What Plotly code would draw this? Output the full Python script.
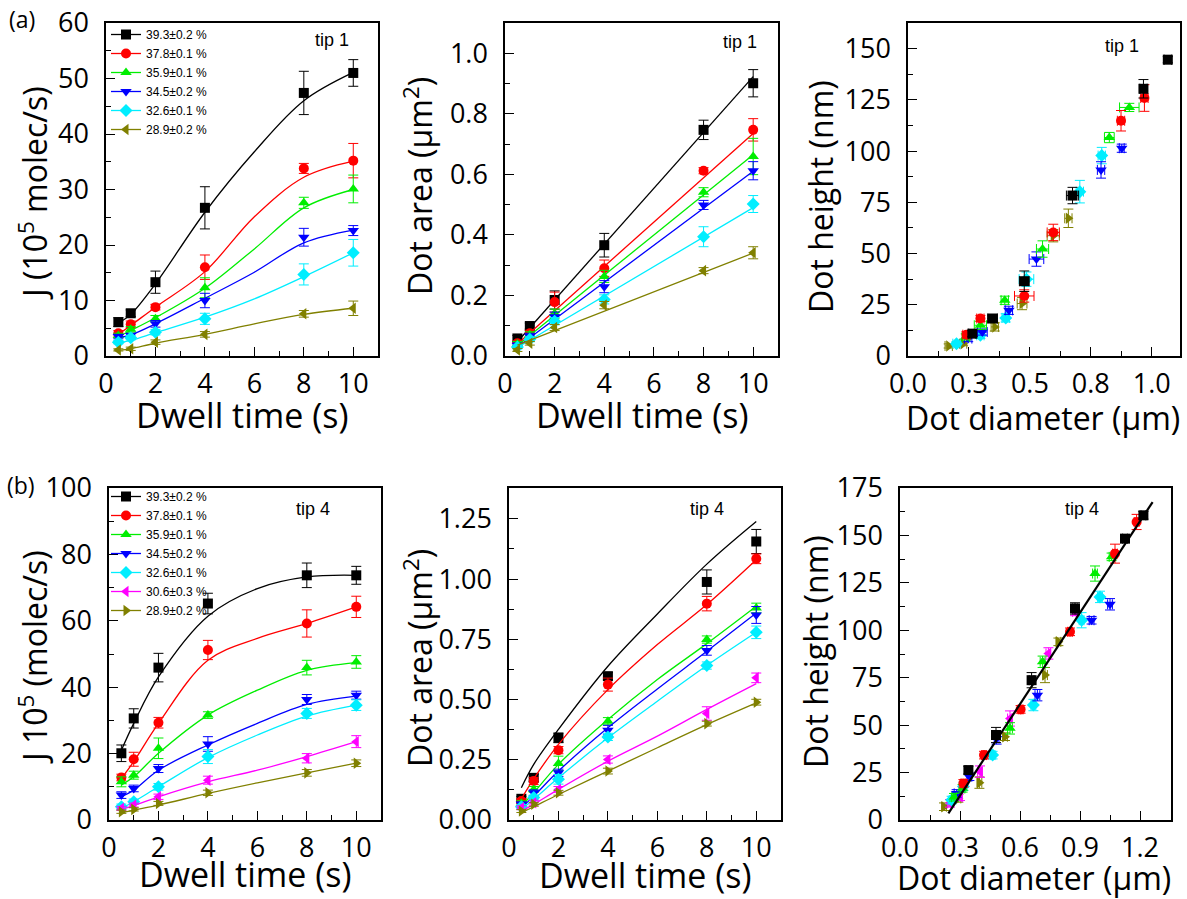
import plotly.graph_objects as go

W, H = 1187, 899

# ---------------- data ----------------
T = [0.5, 1, 2, 4, 8, 10]
FIT_T = [0.5, 1, 2, 4, 6, 8, 10]
LIN_T = [0.5, 10]

LABELS_TIP1 = ["39.3±0.2 %", "37.8±0.1 %", "35.9±0.1 %", "34.5±0.2 %", "32.6±0.1 %", "28.9±0.2 %"]
LABELS_TIP4 = ["39.3±0.2 %", "37.8±0.1 %", "35.9±0.1 %", "34.5±0.2 %", "32.6±0.1 %", "30.6±0.3 %", "28.9±0.2 %"]

# (a) tip 1 : flux J (10^5 molec/s) vs dwell time
J_TIP1 = [
    [6.1, 7.7, 13.3, 26.7, 47.4, 51.0],
    [4.1, 5.7, 8.8, 16.0, 33.8, 35.2],
    [3.7, 4.8, 6.7, 12.3, 27.6, 30.1],
    [3.5, 3.7, 5.8, 10.0, 21.4, 22.6],
    [2.5, 3.3, 4.3, 6.7, 14.7, 18.6],
    [1.1, 1.3, 2.5, 3.9, 7.6, 8.6],
]
J_TIP1_ERR = [
    [0.8, 0.6, 2.0, 3.8, 3.9, 2.4],
    [0.5, 0.6, 0.5, 2.2, 0.9, 3.1],
    [0.4, 0.5, 0.6, 1.8, 1.0, 2.5],
    [0.4, 0.4, 0.6, 1.3, 1.6, 0.9],
    [0.3, 0.4, 0.5, 1.0, 1.9, 2.4],
    [0.2, 0.3, 0.4, 0.5, 0.6, 1.3],
]
J_TIP1_FIT = [
    [5.9, 7.5, 13.0, 25.9, 36.8, 46.0, 51.1],
    [3.9, 5.5, 8.8, 15.2, 25.1, 32.2, 35.1],
    [3.5, 4.6, 6.9, 12.2, 19.3, 26.7, 30.0],
    [3.3, 3.8, 5.8, 10.4, 15.1, 20.4, 22.7],
    [2.3, 2.8, 4.2, 7.0, 10.3, 14.3, 18.6],
    [1.0, 1.3, 2.3, 3.9, 5.8, 7.5, 8.6],
]

# (a) tip 1 : dot area (um^2) vs dwell time
AREA_TIP1 = [
    [0.058, 0.099, 0.185, 0.366, 0.747, 0.901],
    [0.042, 0.075, 0.178, 0.290, 0.612, 0.747],
    [0.040, 0.070, 0.140, 0.263, 0.541, 0.659],
    [0.035, 0.065, 0.130, 0.229, 0.499, 0.612],
    [0.030, 0.055, 0.115, 0.187, 0.394, 0.502],
    [0.020, 0.042, 0.094, 0.168, 0.282, 0.341],
]
AREA_TIP1_ERR = [
    [0.010, 0.010, 0.030, 0.039, 0.032, 0.045],
    [0.008, 0.010, 0.033, 0.027, 0.010, 0.037],
    [0.008, 0.010, 0.015, 0.020, 0.015, 0.060],
    [0.008, 0.010, 0.015, 0.020, 0.015, 0.030],
    [0.006, 0.008, 0.012, 0.015, 0.033, 0.028],
    [0.005, 0.006, 0.010, 0.012, 0.010, 0.020],
]
AREA_TIP1_FIT = [
    [0.047, 0.923],
    [0.040, 0.735],
    [0.035, 0.665],
    [0.030, 0.610],
    [0.028, 0.490],
    [0.036, 0.340],
]

# (a) tip 1 : dot height (nm) vs dot diameter (um)
DIAM_TIP1 = [
    [1.066, 0.966, 0.675, 0.477, 0.347, 0.264],
    [0.970, 0.874, 0.596, 0.477, 0.297, 0.240],
    [0.908, 0.826, 0.552, 0.397, 0.297, 0.237],
    [0.877, 0.792, 0.527, 0.414, 0.305, 0.247],
    [0.795, 0.705, 0.486, 0.401, 0.297, 0.199],
    [0.658, 0.596, 0.468, 0.356, 0.226, 0.167],
]
DIAM_TIP1_ERR = [
    [0.015, 0.015, 0.025, 0.020, 0.020, 0.015],
    [0.015, 0.015, 0.025, 0.040, 0.015, 0.015],
    [0.040, 0.020, 0.025, 0.015, 0.025, 0.015],
    [0.010, 0.015, 0.030, 0.015, 0.020, 0.015],
    [0.015, 0.015, 0.030, 0.015, 0.015, 0.015],
    [0.015, 0.025, 0.020, 0.015, 0.015, 0.015],
]
HEIGHT_TIP1 = [
    [144.6, 130.4, 78.3, 36.5, 18.3, 10.9],
    [125.9, 114.8, 60.3, 29.3, 18.3, 10.4],
    [121.3, 106.6, 52.2, 27.2, 15.0, 9.3],
    [101.4, 90.8, 47.3, 22.3, 11.7, 8.5],
    [97.8, 80.2, 37.5, 18.6, 10.1, 6.0],
    [67.2, 58.7, 25.6, 14.2, 6.0, 4.9],
]
HEIGHT_TIP1_ERR = [
    [1.5, 4.5, 4.0, 5.0, 1.5, 1.5],
    [6.5, 5.0, 4.0, 3.0, 1.5, 1.5],
    [2.0, 2.5, 4.0, 2.0, 2.0, 1.5],
    [2.0, 4.0, 3.5, 2.0, 1.5, 1.5],
    [4.0, 5.5, 3.5, 2.0, 1.5, 1.0],
    [4.5, 3.0, 3.0, 2.0, 1.0, 1.0],
]

# (b) tip 4 : flux J
J_TIP4 = [
    [20.1, 30.6, 45.9, 65.2, 73.7, 73.7],
    [12.8, 18.3, 29.3, 51.2, 59.2, 64.2],
    [11.5, 13.5, 21.6, 31.6, 45.9, 47.6],
    [7.5, 9.5, 15.5, 22.9, 36.3, 37.6],
    [4.0, 5.5, 10.0, 19.1, 32.1, 34.6],
    [3.5, 4.5, 7.0, 12.0, 18.6, 23.6],
    [2.5, 3.2, 5.0, 8.2, 14.2, 17.1],
]
J_TIP4_ERR = [
    [2.5, 2.9, 4.3, 3.1, 3.7, 2.7],
    [1.0, 2.1, 1.6, 2.9, 4.1, 3.2],
    [1.5, 1.2, 3.1, 1.0, 2.2, 1.9],
    [1.0, 1.0, 1.2, 2.2, 1.5, 1.2],
    [0.8, 0.8, 1.0, 2.1, 1.5, 1.6],
    [0.6, 0.6, 0.8, 1.2, 1.4, 1.8],
    [0.5, 0.5, 0.6, 0.8, 1.0, 1.0],
]
J_TIP4_FIT = [
    [21.0, 29.1, 43.1, 61.4, 69.7, 73.2, 73.7],
    [12.5, 17.6, 29.1, 48.1, 54.7, 59.2, 64.2],
    [10.5, 13.0, 20.1, 31.6, 39.1, 45.1, 47.4],
    [7.0, 9.0, 15.0, 22.6, 29.1, 34.8, 37.3],
    [3.5, 5.5, 10.0, 18.8, 25.6, 31.3, 34.6],
    [3.2, 4.3, 7.0, 11.5, 15.0, 19.1, 23.6],
    [2.2, 3.0, 4.5, 8.0, 11.2, 14.2, 17.1],
]

# (b) tip 4 : dot area
AREA_TIP4 = [
    [0.088, 0.175, 0.341, 0.597, 0.988, 1.156],
    [0.079, 0.162, 0.290, 0.562, 0.898, 1.084],
    [0.070, 0.127, 0.235, 0.410, 0.749, 0.880],
    [0.065, 0.113, 0.196, 0.373, 0.704, 0.851],
    [0.055, 0.093, 0.169, 0.345, 0.641, 0.779],
    [0.051, 0.072, 0.127, 0.251, 0.442, 0.590],
    [0.037, 0.065, 0.113, 0.203, 0.400, 0.489],
]
AREA_TIP4_ERR = [
    [0.010, 0.015, 0.020, 0.015, 0.050, 0.050],
    [0.010, 0.015, 0.015, 0.027, 0.030, 0.020],
    [0.010, 0.012, 0.030, 0.015, 0.015, 0.020],
    [0.010, 0.012, 0.015, 0.020, 0.020, 0.035],
    [0.008, 0.010, 0.020, 0.015, 0.015, 0.026],
    [0.008, 0.010, 0.012, 0.015, 0.028, 0.020],
    [0.006, 0.008, 0.010, 0.012, 0.010, 0.012],
]
AREA_TIP4_FIT = [
    [0.134, 0.231, 0.376, 0.638, 0.855, 1.062, 1.239],
    [0.088, 0.171, 0.314, 0.541, 0.728, 0.894, 1.080],
    [0.058, 0.113, 0.231, 0.417, 0.583, 0.732, 0.887],
    [0.051, 0.099, 0.203, 0.383, 0.544, 0.700, 0.859],
    [0.044, 0.086, 0.175, 0.341, 0.493, 0.641, 0.779],
    [0.037, 0.065, 0.127, 0.244, 0.348, 0.459, 0.566],
    [0.030, 0.055, 0.106, 0.203, 0.300, 0.396, 0.486],
]

# (b) tip 4 : dot height vs diameter
DIAM_TIP4 = [
    [1.217, 1.125, 0.875, 0.658, 0.480, 0.342],
    [1.183, 1.075, 0.850, 0.603, 0.420, 0.317],
    [1.058, 0.975, 0.713, 0.550, 0.313, 0.270],
    [1.050, 0.958, 0.687, 0.483, 0.347, 0.283],
    [1.000, 0.908, 0.667, 0.463, 0.317, 0.258],
    [0.875, 0.742, 0.550, 0.400, 0.300, 0.250],
    [0.792, 0.725, 0.525, 0.397, 0.292, 0.220],
]
HEIGHT_TIP4 = [
    [160.6, 148.3, 111.5, 73.7, 44.8, 26.3],
    [157.1, 140.4, 99.2, 58.3, 34.2, 19.3],
    [138.7, 129.9, 83.4, 48.3, 16.7, 12.0],
    [113.7, 105.3, 65.8, 43.0, 22.8, 14.0],
    [117.6, 105.3, 60.6, 34.2, 17.6, 10.5],
    [109.7, 87.8, 53.5, 25.5, 12.3, 8.8],
    [93.9, 76.4, 43.9, 19.7, 11.4, 7.0],
]
HEIGHT_TIP4_ERR = [
    [2.0, 2.0, 3.0, 4.0, 4.0, 2.0],
    [4.0, 5.0, 2.0, 2.0, 2.0, 2.0],
    [2.0, 4.0, 3.0, 3.0, 2.0, 2.0],
    [3.0, 2.0, 3.0, 3.0, 2.0, 2.0],
    [3.0, 4.0, 3.0, 2.0, 2.0, 2.0],
    [2.0, 3.0, 4.0, 3.0, 2.0, 2.0],
    [2.0, 4.0, 2.0, 3.0, 2.0, 2.0],
]
DIAM_TIP4_ERR = [0.012, 0.012, 0.012, 0.012, 0.012, 0.012]
FIT_DIAM_TIP4 = [0.242, 1.263]
FIT_HEIGHT_TIP4 = [3.5, 167.6]

# ---------------- styles ----------------
BLACK, RED, GREEN, BLUE, CYAN, MAGENTA, OLIVE = (
    "#000000", "#ff0000", "#00ee00", "#0000ff", "#00eeff", "#ff00ff", "#808000")
COLORS_TIP1 = [BLACK, RED, GREEN, BLUE, CYAN, OLIVE]
COLORS_TIP4 = [BLACK, RED, GREEN, BLUE, CYAN, MAGENTA, OLIVE]
SYM_TIP1 = ["square", "circle", "triangle-up", "triangle-down", "diamond", "triangle-left"]
SYM_TIP1_HD = ["square", "circle", "triangle-up", "triangle-down", "diamond", "triangle-right"]
SYM_TIP4 = ["square", "circle", "triangle-up", "triangle-down", "diamond", "triangle-left", "triangle-right"]

FONT = "Liberation Sans"
TFONT = "Open Sans"
MS = 10

fig = go.Figure()


def px_x(p):
    return p / W


def px_y(p):
    return 1 - p / H


def pts(ax, xs, ys, yerr, color, symbol, xerr=None):
    tr = go.Scatter(
        x=xs, y=ys, mode="markers",
        marker=dict(color=color, symbol=symbol, size=MS, line=dict(width=0)),
        error_y=dict(type="data", array=yerr, color=color, thickness=1, width=5),
        xaxis="x" + ax, yaxis="y" + ax, showlegend=False, hoverinfo="skip",
    )
    if xerr is not None:
        tr.error_x = dict(type="data", array=xerr, color=color, thickness=1, width=5)
    fig.add_trace(tr)


def curve(ax, xs, ys, color, width=1.3, shape="spline"):
    fig.add_trace(go.Scatter(
        x=xs, y=ys, mode="lines", line=dict(color=color, width=width, shape=shape, smoothing=1.0),
        xaxis="x" + ax, yaxis="y" + ax, showlegend=False, hoverinfo="skip",
    ))


def legend_proxy(ax, name, color, symbol, legend):
    fig.add_trace(go.Scatter(
        x=[None], y=[None], mode="lines+markers", name=name,
        line=dict(color=color, width=1.3),
        marker=dict(color=color, symbol=symbol, size=MS),
        xaxis="x" + ax, yaxis="y" + ax, showlegend=True, legend=legend,
    ))


# panel a1
for i in range(6):
    curve("", FIT_T, J_TIP1_FIT[i], COLORS_TIP1[i])
    pts("", T, J_TIP1[i], J_TIP1_ERR[i], COLORS_TIP1[i], SYM_TIP1[i])
for i in range(6):
    legend_proxy("", LABELS_TIP1[i], COLORS_TIP1[i], SYM_TIP1[i], "legend")

# panel a2
for i in range(6):
    curve("2", LIN_T, AREA_TIP1_FIT[i], COLORS_TIP1[i], shape="linear")
    pts("2", T, AREA_TIP1[i], AREA_TIP1_ERR[i], COLORS_TIP1[i], SYM_TIP1[i])

# panel a3
for i in reversed(range(6)):
    pts("3", DIAM_TIP1[i], HEIGHT_TIP1[i], HEIGHT_TIP1_ERR[i], COLORS_TIP1[i], SYM_TIP1_HD[i],
        xerr=DIAM_TIP1_ERR[i])

# panel b1
for i in range(7):
    curve("4", FIT_T, J_TIP4_FIT[i], COLORS_TIP4[i])
    pts("4", T, J_TIP4[i], J_TIP4_ERR[i], COLORS_TIP4[i], SYM_TIP4[i])
for i in range(7):
    legend_proxy("4", LABELS_TIP4[i], COLORS_TIP4[i], SYM_TIP4[i], "legend2")

# panel b2
for i in range(7):
    curve("5", FIT_T, AREA_TIP4_FIT[i], COLORS_TIP4[i])
    pts("5", T, AREA_TIP4[i], AREA_TIP4_ERR[i], COLORS_TIP4[i], SYM_TIP4[i])

# panel b3
for i in reversed(range(7)):
    pts("6", DIAM_TIP4[i], HEIGHT_TIP4[i], HEIGHT_TIP4_ERR[i], COLORS_TIP4[i], SYM_TIP4[i],
        xerr=DIAM_TIP4_ERR)
curve("6", FIT_DIAM_TIP4, FIT_HEIGHT_TIP4, BLACK, width=2.2, shape="linear")

# ---------------- axes ----------------
TICKFONT = dict(family=TFONT, size=27, color="black")


def axis(domain, rng, anchor, **kw):
    d = dict(domain=domain, range=rng, anchor=anchor, showline=True, linecolor="black",
             linewidth=1.5, mirror=True, ticks="inside", ticklen=9, tickwidth=1.3,
             tickcolor="black", showgrid=False, zeroline=False, tickfont=TICKFONT,
             automargin=False,
             minor=dict(ticks="inside", ticklen=5, tickwidth=1.3, tickcolor="black", showgrid=False))
    d.update(kw)
    return d


XD = [[px_x(106), px_x(378)], [px_x(505), px_x(778)], [px_x(908), px_x(1180)],
      [px_x(109), px_x(381)], [px_x(509), px_x(781)], [px_x(900), px_x(1171)]]
YD_A = [px_y(356), px_y(23)]
YD_B = [px_y(820), px_y(488)]

XKW = dict(ticklabelstandoff=3)
YKW = dict(ticklabelstandoff=10)
TIME_KW = dict(tickmode="linear", tick0=0, dtick=2, **XKW)
TIME_MINOR = dict(ticks="inside", ticklen=5, tickwidth=1.3, tickcolor="black", dtick=1, tick0=0)

fig.update_layout(
    xaxis=axis(XD[0], [0, 11], "y", **TIME_KW),
    yaxis=axis(YD_A, [0, 60], "x", tickmode="linear", tick0=0, dtick=10, **YKW),
    xaxis2=axis(XD[1], [0, 11], "y2", **TIME_KW),
    yaxis2=axis(YD_A, [0, 1.1], "x2", tickmode="linear", tick0=0, dtick=0.2, tickformat=".1f", **YKW),
    xaxis3=axis(XD[2], [0, 1.116], "y3", tickmode="array",
                tickvals=[0, 0.25, 0.5, 0.75, 1.0], ticktext=["0.0", "0.3", "0.5", "0.8", "1.0"], **XKW),
    yaxis3=axis(YD_A, [0, 162.5], "x3", tickmode="linear", tick0=0, dtick=25, **YKW),
    xaxis4=axis(XD[3], [0, 11], "y4", **TIME_KW),
    yaxis4=axis(YD_B, [0, 100], "x4", tickmode="linear", tick0=0, dtick=20, **YKW),
    xaxis5=axis(XD[4], [0, 11], "y5", **TIME_KW),
    yaxis5=axis(YD_B, [0, 1.378], "x5", tickmode="linear", tick0=0, dtick=0.25, tickformat=".2f", **YKW),
    xaxis6=axis(XD[5], [0, 1.355], "y6", tickmode="linear", tick0=0, dtick=0.3, tickformat=".1f", **XKW),
    yaxis6=axis(YD_B, [0, 175], "x6", tickmode="linear", tick0=0, dtick=25, **YKW),
)
for k in ["xaxis", "xaxis2", "xaxis4", "xaxis5"]:
    fig.layout[k].minor = TIME_MINOR
fig.layout.yaxis.minor.dtick = 5
fig.layout.yaxis2.minor.dtick = 0.1
fig.layout.yaxis3.minor.dtick = 12.5
fig.layout.xaxis3.minor.tickvals = [0.125, 0.375, 0.625, 0.875, 1.125]
fig.layout.yaxis4.minor.dtick = 10
fig.layout.yaxis5.minor.dtick = 0.125
fig.layout.xaxis6.minor.dtick = 0.15
fig.layout.yaxis6.minor.dtick = 12.5

# ---------------- text ----------------
ann = []


def text(x, y, s, size=34, angle=0, family=TFONT):
    ann.append(dict(x=px_x(x), y=px_y(y), xref="paper", yref="paper", text=s, showarrow=False,
                    textangle=angle, font=dict(family=family, size=size, color="black"),
                    xanchor="center", yanchor="middle"))


text(33, 193, "J (10<sup>5</sup> molec/s)", size=32, angle=-90)
text(242, 415, "Dwell time (s)")
text(418, 186, "Dot area (μm<sup>2</sup>)", size=32, angle=-90)
text(642, 415, "Dwell time (s)")
text(821, 197, "Dot height (nm)", size=32, angle=-90)
text(1043, 417, "Dot diameter (μm)", size=32)
text(33, 657, "J 10<sup>5</sup> (molec/s)", size=32, angle=-90)
text(245, 874, "Dwell time (s)")
text(418, 658, "Dot area (μm<sup>2</sup>)", size=32, angle=-90)
text(645, 875, "Dwell time (s)")
text(815, 652, "Dot height (nm)", size=32, angle=-90)
text(1034, 877, "Dot diameter (μm)", size=32)

text(22, 19, "(a)", size=23)
text(21, 485, "(b)", size=23)

text(332, 40, "tip 1", size=18, family=FONT)
text(740, 42, "tip 1", size=18, family=FONT)
text(1122, 46, "tip 1", size=18, family=FONT)
text(313, 509, "tip 4", size=18, family=FONT)
text(707, 509, "tip 4", size=18, family=FONT)
text(1082, 509, "tip 4", size=18, family=FONT)

LEG = dict(xanchor="left", yanchor="top", bgcolor="rgba(0,0,0,0)", borderwidth=0,
           font=dict(family=FONT, size=12, color="black"), tracegroupgap=0, itemwidth=30)
fig.update_layout(
    width=W, height=H, margin=dict(l=0, r=0, t=0, b=0, autoexpand=False),
    paper_bgcolor="white", plot_bgcolor="white",
    font=dict(family=FONT, color="black"),
    annotations=ann,
    legend=dict(x=px_x(106), y=px_y(20), **LEG),
    legend2=dict(x=px_x(106), y=px_y(482), **LEG),
)

fig.write_html(
    "out.html",
    post_script="document.body.style.margin='0';document.body.style.overflow='hidden';",
)
